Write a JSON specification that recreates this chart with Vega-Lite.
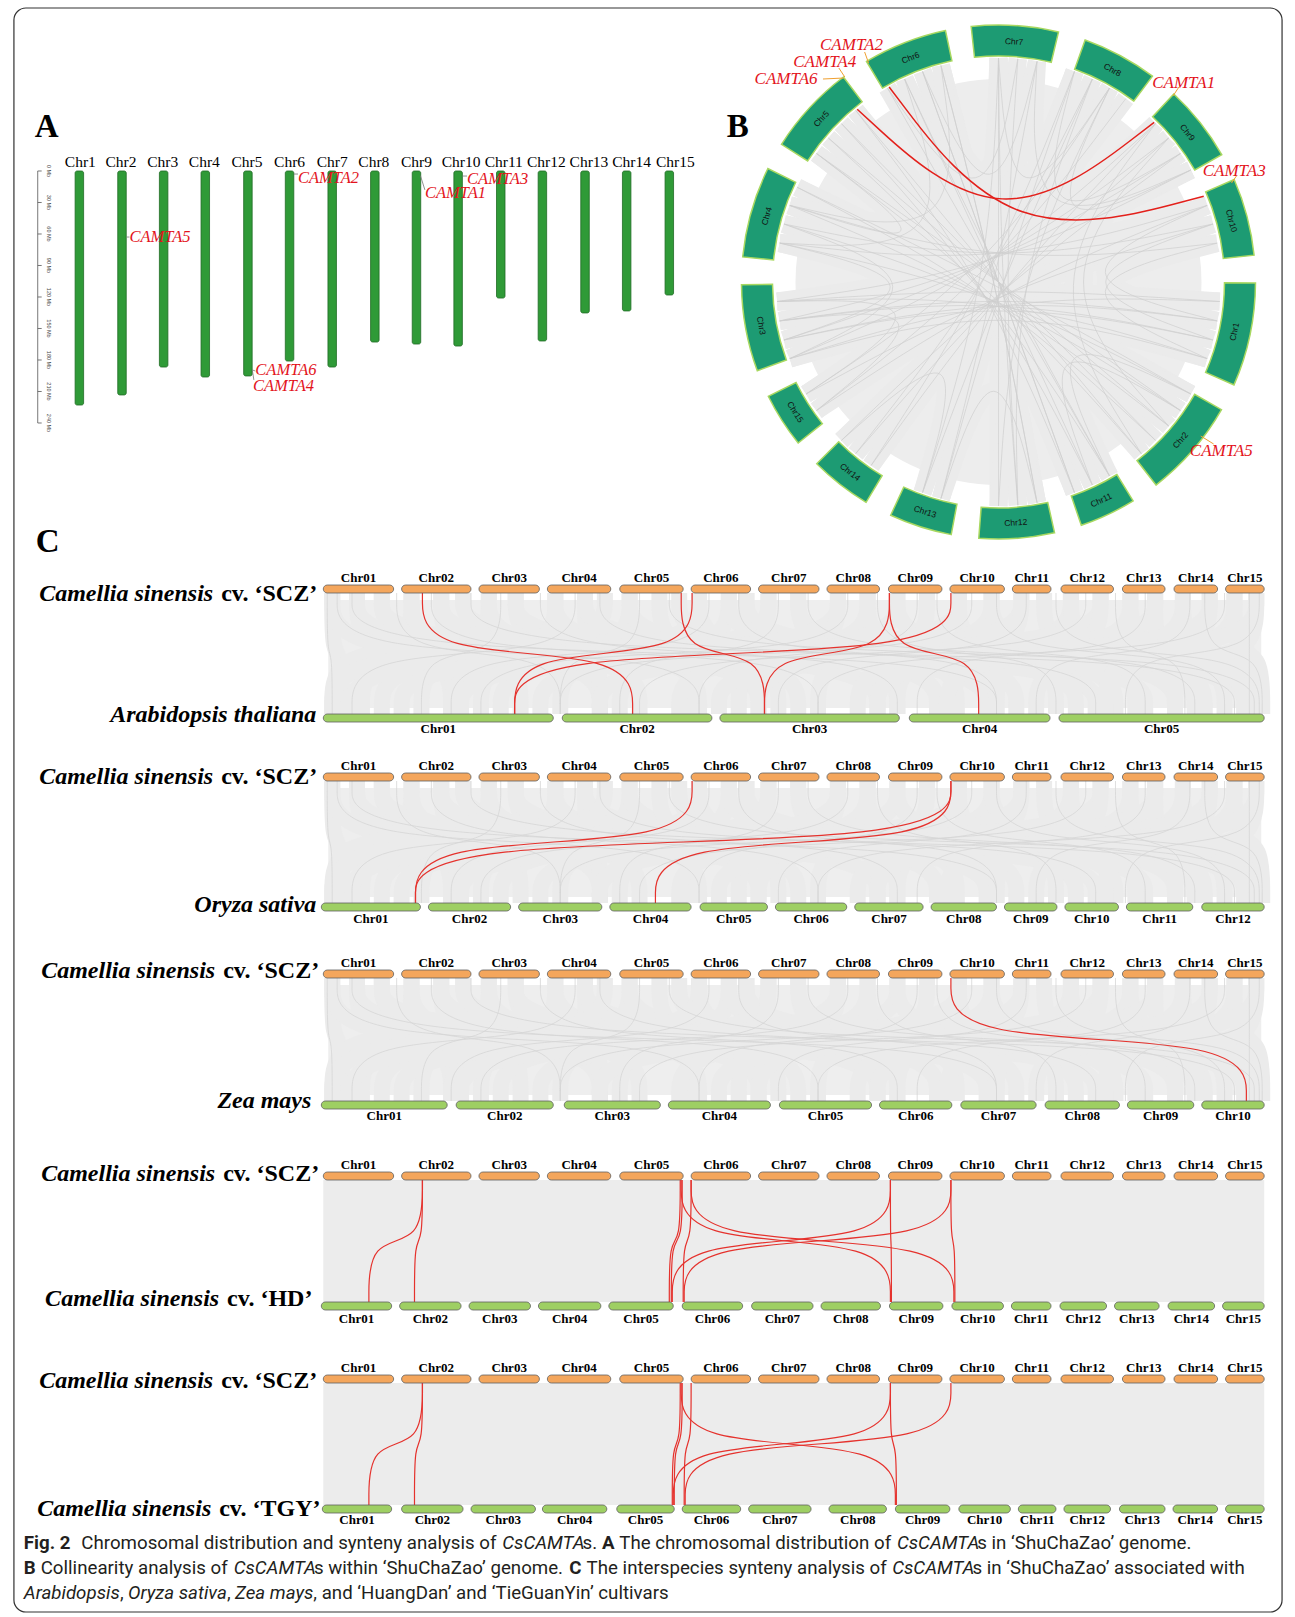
{
"$schema":"https://vega.github.io/schema/vega-lite/v6.json",
"width":1295,"height":1617,
"autosize":{"type":"fit","contains":"padding"},
"padding":0,
"background":"#ffffff",
"config":{"view":{"stroke":null}},
"datasets":{
"circG":[
{"xs":[1002,1002,1002],"ys":[58,282,506]},
{"xs":[1021.5,1002,1021.5],"ys":[58.9,282,505.1]},
{"xs":[1040.9,1002,944],"ys":[61.4,282,498.4]},
{"xs":[1002,1002,925.4],"ys":[58,282,492.5]},
{"xs":[944,1002,1040.9],"ys":[65.6,282,502.6]},
{"xs":[925.4,1002,1078.6],"ys":[71.5,282,492.5]},
{"xs":[907.3,1002,1114],"ys":[79,282,476]},
{"xs":[1078.6,1002,873.5],"ys":[71.5,282,465.5]},
{"xs":[1096.7,1002,858],"ys":[79,282,453.6]},
{"xs":[1114,1002,808],"ys":[88,282,394]},
{"xs":[1130.5,1002,818.5],"ys":[98.5,282,410.5]},
{"xs":[1160.4,1002,791.5],"ys":[123.6,282,358.6]},
{"xs":[1173.6,1002,785.6],"ys":[138,282,340]},
{"xs":[1185.5,1002,781.4],"ys":[153.5,282,320.9]},
{"xs":[1196,1002,778.9],"ys":[170,282,301.5]},
{"xs":[1212.5,1002,781.4],"ys":[205.4,282,243.1]},
{"xs":[1218.4,1002,785.6],"ys":[224,282,224]},
{"xs":[1222.6,1002,791.5],"ys":[243.1,282,205.4]},
{"xs":[1225.1,1002,778.9],"ys":[301.5,282,301.5]},
{"xs":[1222.6,1002,781.4],"ys":[320.9,282,320.9]},
{"xs":[1218.4,1002,785.6],"ys":[340,282,340]},
{"xs":[1212.5,1002,791.5],"ys":[358.6,282,358.6]},
{"xs":[1196,1002,799],"ys":[394,282,187.3]},
{"xs":[1185.5,1002,818.5],"ys":[410.5,282,153.5]},
{"xs":[1173.6,1002,830.4],"ys":[426,282,138]},
{"xs":[1160.4,1002,843.6],"ys":[440.4,282,123.6]},
{"xs":[1146,1002,858],"ys":[453.6,282,110.4]},
{"xs":[1114,1002,890],"ys":[476,282,88]},
{"xs":[1096.7,1002,907.3],"ys":[485,282,79]},
{"xs":[1078.6,1002,925.4],"ys":[492.5,282,71.5]},
{"xs":[1040.9,1002,944],"ys":[502.6,282,65.6]},
{"xs":[1021.5,1002,1002],"ys":[505.1,282,58]},
{"xs":[944,1002,1078.6],"ys":[498.4,282,71.5]},
{"xs":[925.4,1002,1096.7],"ys":[492.5,282,79]},
{"xs":[873.5,1002,1160.4],"ys":[465.5,282,123.6]},
{"xs":[858,1002,1173.6],"ys":[453.6,282,138]},
{"xs":[843.6,1002,1185.5],"ys":[440.4,282,153.5]},
{"xs":[818.5,1002,1212.5],"ys":[410.5,282,205.4]},
{"xs":[808,1002,1218.4],"ys":[394,282,224]},
{"xs":[791.5,1002,1225.1],"ys":[358.6,282,301.5]},
{"xs":[785.6,1002,1222.6],"ys":[340,282,320.9]},
{"xs":[781.4,1002,1218.4],"ys":[320.9,282,340]},
{"xs":[778.9,1002,1212.5],"ys":[301.5,282,358.6]},
{"xs":[781.4,1002,1196],"ys":[243.1,282,394]},
{"xs":[785.6,1002,1185.5],"ys":[224,282,410.5]},
{"xs":[791.5,1002,1173.6],"ys":[205.4,282,426]},
{"xs":[799,1002,1160.4],"ys":[187.3,282,440.4]},
{"xs":[818.5,1002,1146],"ys":[153.5,282,453.6]},
{"xs":[830.4,1002,1114],"ys":[138,282,476]},
{"xs":[843.6,1002,1096.7],"ys":[123.6,282,485]},
{"xs":[858,1002,1078.6],"ys":[110.4,282,492.5]},
{"xs":[890,1002,1021.5],"ys":[88,282,58.9]},
{"xs":[925.4,1002,1040.9],"ys":[71.5,282,61.4]},
{"xs":[1002,1002,1114],"ys":[58,282,88]},
{"xs":[1212.5,1002,1222.6],"ys":[205.4,282,320.9]},
{"xs":[1218.4,1002,1218.4],"ys":[224,282,340]},
{"xs":[1196,1002,1114],"ys":[394,282,476]},
{"xs":[1185.5,1002,1096.7],"ys":[410.5,282,485]},
{"xs":[781.4,1002,818.5],"ys":[320.9,282,410.5]},
{"xs":[778.9,1002,808],"ys":[301.5,282,394]},
{"xs":[781.4,1002,785.6],"ys":[243.1,282,340]},
{"xs":[785.6,1002,791.5],"ys":[224,282,358.6]},
{"xs":[791.5,1002,818.5],"ys":[205.4,282,153.5]},
{"xs":[925.4,1002,843.6],"ys":[492.5,282,440.4]},
{"xs":[1040.9,1002,944],"ys":[502.6,282,498.4]},
{"xs":[1196,1002,1114],"ys":[170,282,88]},
{"xs":[1185.5,1002,1078.6],"ys":[153.5,282,71.5]},
{"xs":[1222.6,1002,1212.5],"ys":[243.1,282,358.6]},
{"xs":[1040.9,1002,1196],"ys":[61.4,282,170]},
{"xs":[944,1002,791.5],"ys":[65.6,282,205.4]},
{"xs":[907.3,1002,781.4],"ys":[79,282,243.1]},
{"xs":[1160.4,1002,1146],"ys":[123.6,282,453.6]},
{"xs":[1173.6,1002,1173.6],"ys":[138,282,426]},
{"xs":[1096.7,1002,1021.5],"ys":[79,282,505.1]},
{"xs":[1114,1002,1002],"ys":[88,282,506]}
],
"circ":[
{"c":"Chr7","a0":-6.1,"a1":13.5,"m":3.7},
{"c":"Chr8","a0":19.7,"a1":36.8,"m":28.25},
{"c":"Chr9","a0":43.0,"a1":60.3,"m":51.65},
{"c":"Chr10","a0":66.5,"a1":84.0,"m":75.25},
{"c":"Chr1","a0":90.2,"a1":113.6,"m":101.9},
{"c":"Chr2","a0":119.8,"a1":142.2,"m":131},
{"c":"Chr11","a0":148.4,"a1":161.2,"m":154.8},
{"c":"Chr12","a0":167.4,"a1":184.4,"m":175.9},
{"c":"Chr13","a0":190.6,"a1":204.8,"m":197.7},
{"c":"Chr14","a0":211.0,"a1":225.0,"m":218},
{"c":"Chr15","a0":231.2,"a1":243.6,"m":237.4},
{"c":"Chr3","a0":249.8,"a1":269.4,"m":259.6},
{"c":"Chr4","a0":275.6,"a1":296.2,"m":285.9},
{"c":"Chr5","a0":302.4,"a1":322.9,"m":312.65},
{"c":"Chr6","a0":329.1,"a1":348.1,"m":338.6}
],
"cPan":[
{"p":1,"ys":[593,653.5,653.5,714],"t0":585,"t1":593,"tl":582,"b0":714,"b1":722,"bl":733},
{"p":2,"ys":[781,842,842,903],"t0":773,"t1":781,"tl":770,"b0":903,"b1":911,"bl":923},
{"p":3,"ys":[978,1039.5,1039.5,1101],"t0":970,"t1":978,"tl":967,"b0":1101,"b1":1109,"bl":1120},
{"p":4,"ys":[1180,1241,1241,1302],"t0":1172,"t1":1180,"tl":1169,"b0":1302,"b1":1310,"bl":1323},
{"p":5,"ys":[1383,1444,1444,1505],"t0":1375,"t1":1383,"tl":1372,"b0":1505,"b1":1513,"bl":1524}
],
"cGray":[
{"ps":[1,2,3],"xs":[330,330,340,340]},{"ps":[1,2,3],"xs":[330,330,600,600]},{"ps":[1,2,3],"xs":[355,355,450,450]},{"ps":[1,2,3],"xs":[355,355,880,880]},
{"ps":[1,2,3],"xs":[380,380,760,760]},{"ps":[1,2,3],"xs":[380,380,1100,1100]},{"ps":[1,2,3],"xs":[410,410,330,330]},{"ps":[1,2,3],"xs":[410,410,640,640]},
{"ps":[1,2,3],"xs":[440,440,520,520]},{"ps":[1,2,3],"xs":[440,440,990,990]},{"ps":[1,2,3],"xs":[462,462,1200,1200]},{"ps":[1,2,3],"xs":[488,488,360,360]},
{"ps":[1,2,3],"xs":[488,488,800,800]},{"ps":[1,2,3],"xs":[515,515,700,700]},{"ps":[1,2,3],"xs":[515,515,1150,1150]},{"ps":[1,2,3],"xs":[555,555,420,420]},
{"ps":[1,2,3],"xs":[555,555,940,940]},{"ps":[1,2,3],"xs":[585,585,600,600]},{"ps":[1,2,3],"xs":[585,585,1250,1250]},{"ps":[1,2,3],"xs":[605,605,330,330]},
{"ps":[1,2,3],"xs":[630,630,480,480]},{"ps":[1,2,3],"xs":[630,630,1080,1080]},{"ps":[1,2,3],"xs":[660,660,780,780]},{"ps":[1,2,3],"xs":[680,680,1020,1020]},
{"ps":[1,2,3],"xs":[700,700,380,380]},{"ps":[1,2,3],"xs":[700,700,900,900]},{"ps":[1,2,3],"xs":[730,730,560,560]},{"ps":[1,2,3],"xs":[730,730,1180,1180]},
{"ps":[1,2,3],"xs":[748,748,1260,1260]},{"ps":[1,2,3],"xs":[770,770,450,450]},{"ps":[1,2,3],"xs":[770,770,690,690]},{"ps":[1,2,3],"xs":[800,800,960,960]},
{"ps":[1,2,3],"xs":[800,800,1120,1120]},{"ps":[1,2,3],"xs":[840,840,350,350]},{"ps":[1,2,3],"xs":[840,840,740,740]},{"ps":[1,2,3],"xs":[870,870,1000,1000]},
{"ps":[1,2,3],"xs":[870,870,620,620]},{"ps":[1,2,3],"xs":[900,900,500,500]},{"ps":[1,2,3],"xs":[900,900,1210,1210]},{"ps":[1,2,3],"xs":[930,930,820,820]},
{"ps":[1,2,3],"xs":[962,962,400,400]},{"ps":[1,2,3],"xs":[962,962,1060,1060]},{"ps":[1,2,3],"xs":[995,995,680,680]},{"ps":[1,2,3],"xs":[995,995,1250,1250]},
{"ps":[1,2,3],"xs":[1025,1025,540,540]},{"ps":[1,2,3],"xs":[1025,1025,900,900]},{"ps":[1,2,3],"xs":[1048,1048,1140,1140]},{"ps":[1,2,3],"xs":[1075,1075,760,760]},
{"ps":[1,2,3],"xs":[1075,1075,1230,1230]},{"ps":[1,2,3],"xs":[1105,1105,460,460]},{"ps":[1,2,3],"xs":[1105,1105,1000,1000]},{"ps":[1,2,3],"xs":[1135,1135,860,860]},
{"ps":[1,2,3],"xs":[1135,1135,1265,1265]},{"ps":[1,2,3],"xs":[1160,1160,600,600]},{"ps":[1,2,3],"xs":[1160,1160,1180,1180]},{"ps":[1,2,3],"xs":[1188,1188,950,950]},
{"ps":[1,2,3],"xs":[1188,1188,1262,1262]},{"ps":[1,2,3],"xs":[1215,1215,720,720]},{"ps":[1,2,3],"xs":[1215,1215,1110,1110]},{"ps":[1,2,3],"xs":[1240,1240,1040,1040]},
{"ps":[1,2,3],"xs":[1240,1240,1268,1268]},{"ps":[1,2,3],"xs":[1262,1262,880,880]},{"ps":[1,2,3],"xs":[1262,1262,1200,1200]}
],
"cThin":[
{"ps":[1,2,3],"xs":[325,325,330,330]},{"ps":[1,2,3],"xs":[335,335,700,700]},{"ps":[1,2,3],"xs":[350,350,1000,1000]},{"ps":[1,2,3],"xs":[395,395,560,560]},
{"ps":[1,2,3],"xs":[430,430,820,820]},{"ps":[1,2,3],"xs":[470,470,1240,1240]},{"ps":[1,2,3],"xs":[500,500,420,420]},{"ps":[1,2,3],"xs":[540,540,900,900]},
{"ps":[1,2,3],"xs":[575,575,350,350]},{"ps":[1,2,3],"xs":[600,600,1100,1100]},{"ps":[1,2,3],"xs":[640,640,560,560]},{"ps":[1,2,3],"xs":[670,670,1260,1260]},
{"ps":[1,2,3],"xs":[710,710,450,450]},{"ps":[1,2,3],"xs":[740,740,1000,1000]},{"ps":[1,2,3],"xs":[780,780,620,620]},{"ps":[1,2,3],"xs":[810,810,1200,1200]},
{"ps":[1,2,3],"xs":[850,850,480,480]},{"ps":[1,2,3],"xs":[880,880,1060,1060]},{"ps":[1,2,3],"xs":[920,920,700,700]},{"ps":[1,2,3],"xs":[940,940,1150,1150]},
{"ps":[1,2,3],"xs":[975,975,560,560]},{"ps":[1,2,3],"xs":[1000,1000,1230,1230]},{"ps":[1,2,3],"xs":[1030,1030,780,780]},{"ps":[1,2,3],"xs":[1060,1060,1265,1265]},
{"ps":[1,2,3],"xs":[1090,1090,640,640]},{"ps":[1,2,3],"xs":[1120,1120,1190,1190]},{"ps":[1,2,3],"xs":[1150,1150,920,920]},{"ps":[1,2,3],"xs":[1195,1195,1040,1040]},
{"ps":[1,2,3],"xs":[1230,1230,820,820]},{"ps":[1,2,3],"xs":[1255,1255,1255,1255]},{"ps":[1,2,3],"xs":[1265,1265,1130,1130]},{"ps":[1,2,3],"xs":[1210,1210,1268,1268]}
],
"cRed":[
{"p":1,"xs":[421,421,633,633]},{"p":1,"xs":[693,693,514,514]},{"p":1,"xs":[954,954,514,514]},{"p":1,"xs":[682,682,766,766]},{"p":1,"xs":[892,892,766,766]},{"p":1,"xs":[892,892,982,982]},
{"p":2,"xs":[693,693,414,414]},{"p":2,"xs":[954,954,414,414]},{"p":2,"xs":[954,954,656,656]},
{"p":3,"xs":[954,954,1252,1252]},
{"p":4,"xs":[421,421,367,367]},{"p":4,"xs":[421,421,413,413]},{"p":4,"xs":[681,681,670,670]},{"p":4,"xs":[683,683,672,672]},{"p":4,"xs":[692,692,684,684]},{"p":4,"xs":[682,682,893,893]},{"p":4,"xs":[692,692,957,957]},{"p":4,"xs":[893,893,673,673]},{"p":4,"xs":[954,954,685,685]},{"p":4,"xs":[893,893,894,894]},{"p":4,"xs":[954,954,958,958]},
{"p":5,"xs":[421,421,367,367]},{"p":5,"xs":[421,421,413,413]},{"p":5,"xs":[681,681,673,673]},{"p":5,"xs":[683,683,675,675]},{"p":5,"xs":[692,692,685,685]},{"p":5,"xs":[682,682,898,898]},{"p":5,"xs":[893,893,674,674]},{"p":5,"xs":[954,954,686,686]},{"p":5,"xs":[893,893,899,899]}
],
"scz":[
{"chr":"Chr01","s":321,"e":392,"ps":[1,2,3,4,5]},{"chr":"Chr02","s":400,"e":470,"ps":[1,2,3,4,5]},{"chr":"Chr03","s":478,"e":539,"ps":[1,2,3,4,5]},
{"chr":"Chr04","s":547,"e":611,"ps":[1,2,3,4,5]},{"chr":"Chr05","s":620,"e":684,"ps":[1,2,3,4,5]},{"chr":"Chr06","s":692,"e":752,"ps":[1,2,3,4,5]},
{"chr":"Chr07","s":760,"e":821,"ps":[1,2,3,4,5]},{"chr":"Chr08","s":829,"e":882,"ps":[1,2,3,4,5]},{"chr":"Chr09","s":891,"e":945,"ps":[1,2,3,4,5]},
{"chr":"Chr10","s":953,"e":1008,"ps":[1,2,3,4,5]},{"chr":"Chr11","s":1016,"e":1055,"ps":[1,2,3,4,5]},{"chr":"Chr12","s":1065,"e":1118,"ps":[1,2,3,4,5]},
{"chr":"Chr13","s":1127,"e":1170,"ps":[1,2,3,4,5]},{"chr":"Chr14","s":1179,"e":1223,"ps":[1,2,3,4,5]},{"chr":"Chr15","s":1231,"e":1270,"ps":[1,2,3,4,5]}
],
"cBot":[
{"p":1,"chr":"Chr01","s":321,"e":553},{"p":1,"chr":"Chr02","s":562,"e":713},{"p":1,"chr":"Chr03","s":721,"e":902},{"p":1,"chr":"Chr04","s":912,"e":1054},{"p":1,"chr":"Chr05","s":1063,"e":1270},
{"p":2,"chr":"Chr01","s":319,"e":419},{"p":2,"chr":"Chr02","s":427,"e":510},{"p":2,"chr":"Chr03","s":518,"e":602},{"p":2,"chr":"Chr04","s":610,"e":692},{"p":2,"chr":"Chr05","s":701,"e":769},{"p":2,"chr":"Chr06","s":777,"e":849},{"p":2,"chr":"Chr07","s":857,"e":926},{"p":2,"chr":"Chr08","s":934,"e":1000},{"p":2,"chr":"Chr09","s":1008,"e":1061},{"p":2,"chr":"Chr10","s":1069,"e":1123},{"p":2,"chr":"Chr11","s":1131,"e":1198},{"p":2,"chr":"Chr12","s":1207,"e":1270},
{"p":3,"chr":"Chr01","s":319,"e":446},{"p":3,"chr":"Chr02","s":455,"e":553},{"p":3,"chr":"Chr03","s":564,"e":661},{"p":3,"chr":"Chr04","s":669,"e":772},{"p":3,"chr":"Chr05","s":781,"e":874},{"p":3,"chr":"Chr06","s":882,"e":955},{"p":3,"chr":"Chr07","s":964,"e":1040},{"p":3,"chr":"Chr08","s":1049,"e":1124},{"p":3,"chr":"Chr09","s":1132,"e":1199},{"p":3,"chr":"Chr10","s":1207,"e":1270},
{"p":4,"chr":"Chr01","s":319,"e":390},{"p":4,"chr":"Chr02","s":398,"e":460},{"p":4,"chr":"Chr03","s":468,"e":530},{"p":4,"chr":"Chr04","s":538,"e":601},{"p":4,"chr":"Chr05","s":609,"e":674},{"p":4,"chr":"Chr06","s":683,"e":744},{"p":4,"chr":"Chr07","s":753,"e":815},{"p":4,"chr":"Chr08","s":823,"e":883},{"p":4,"chr":"Chr09","s":892,"e":946},{"p":4,"chr":"Chr10","s":955,"e":1007},{"p":4,"chr":"Chr11","s":1015,"e":1055},{"p":4,"chr":"Chr12","s":1064,"e":1111},{"p":4,"chr":"Chr13","s":1119,"e":1164},{"p":4,"chr":"Chr14","s":1173,"e":1220},{"p":4,"chr":"Chr15","s":1228,"e":1270},
{"p":5,"chr":"Chr01","s":320,"e":390},{"p":5,"chr":"Chr02","s":400,"e":462},{"p":5,"chr":"Chr03","s":470,"e":535},{"p":5,"chr":"Chr04","s":542,"e":607},{"p":5,"chr":"Chr05","s":617,"e":675},{"p":5,"chr":"Chr06","s":683,"e":742},{"p":5,"chr":"Chr07","s":750,"e":813},{"p":5,"chr":"Chr08","s":831,"e":889},{"p":5,"chr":"Chr09","s":898,"e":953},{"p":5,"chr":"Chr10","s":962,"e":1014},{"p":5,"chr":"Chr11","s":1022,"e":1060},{"p":5,"chr":"Chr12","s":1068,"e":1115},{"p":5,"chr":"Chr13","s":1124,"e":1170},{"p":5,"chr":"Chr14","s":1178,"e":1223},{"p":5,"chr":"Chr15","s":1231,"e":1270}
],
"spIt":[
{"t":"Camellia sinensis","x":210,"y":601},{"t":"Arabidopsis thaliana","x":314,"y":722},
{"t":"Camellia sinensis","x":210,"y":784},{"t":"Oryza sativa","x":314,"y":912},
{"t":"Camellia sinensis","x":212,"y":978},{"t":"Zea mays","x":309,"y":1108},
{"t":"Camellia sinensis","x":212,"y":1181},{"t":"Camellia sinensis","x":216,"y":1306},
{"t":"Camellia sinensis","x":210,"y":1388},{"t":"Camellia sinensis","x":208,"y":1516}
],
"spUp":[
{"t":"cv. ‘SCZ’","x":218,"y":601},{"t":"cv. ‘SCZ’","x":218,"y":784},{"t":"cv. ‘SCZ’","x":220,"y":978},
{"t":"cv. ‘SCZ’","x":220,"y":1181},{"t":"cv. ‘HD’","x":224,"y":1306},{"t":"cv. ‘SCZ’","x":218,"y":1388},{"t":"cv. ‘TGY’","x":216,"y":1516}
],
"capB":[
{"t":"Fig. 2","x":19,"y":1549},{"t":"A","x":602,"y":1549},{"t":"B","x":19,"y":1574},{"t":"C","x":569,"y":1574}
],
"capR":[
{"t":"Chromosomal distribution and synteny analysis of","x":77,"y":1549},
{"t":"s.","x":582.5,"y":1549},
{"t":"The chromosomal distribution of","x":619.5,"y":1549},
{"t":"s in ‘ShuChaZao’ genome.","x":980.6,"y":1549},
{"t":"Collinearity analysis of","x":36,"y":1574},
{"t":"s within ‘ShuChaZao’ genome.","x":311.6,"y":1574},
{"t":"The interspecies synteny analysis of","x":586.6,"y":1574},
{"t":"s in ‘ShuChaZao’ associated with","x":975.8,"y":1574},
{"t":",","x":116,"y":1599},
{"t":",","x":224,"y":1599},
{"t":", and ‘HuangDan’ and ‘TieGuanYin’ cultivars","x":311,"y":1599}
],
"capI":[
{"t":"CsCAMTA","x":501.5,"y":1549},{"t":"CsCAMTA","x":899.6,"y":1549},
{"t":"CsCAMTA","x":230.6,"y":1574},{"t":"CsCAMTA","x":894.8,"y":1574},
{"t":"Arabidopsis","x":19,"y":1599},{"t":"Oryza sativa","x":124,"y":1599},{"t":"Zea mays","x":232,"y":1599}
],
"aChr":[
{"c":"Chr1","x":75,"len":222.9},{"c":"Chr2","x":118,"len":213.3},{"c":"Chr3","x":160,"len":186.7},{"c":"Chr4","x":202,"len":196.2},
{"c":"Chr5","x":245,"len":195.2},{"c":"Chr6","x":287,"len":181.0},{"c":"Chr7","x":330,"len":186.7},{"c":"Chr8","x":373,"len":162.9},
{"c":"Chr9","x":415,"len":164.8},{"c":"Chr10","x":457,"len":166.7},{"c":"Chr11","x":500,"len":121.0},{"c":"Chr12","x":542,"len":161.9},
{"c":"Chr13","x":585,"len":135.2},{"c":"Chr14","x":627,"len":133.3},{"c":"Chr15","x":670,"len":118.1}
],
"aLab":[
{"t":"Chr1","x":76},{"t":"Chr2","x":117},{"t":"Chr3","x":159},{"t":"Chr4","x":201},{"t":"Chr5","x":244},{"t":"Chr6","x":287},{"t":"Chr7","x":330},{"t":"Chr8","x":372},
{"t":"Chr9","x":415},{"t":"Chr10","x":460},{"t":"Chr11","x":503},{"t":"Chr12","x":546},{"t":"Chr13","x":589},{"t":"Chr14","x":632},{"t":"Chr15","x":676}
],
"aTick":[
{"mb":0,"t":"0 Mb"},{"mb":30,"t":"30 Mb"},{"mb":60,"t":"60 Mb"},{"mb":90,"t":"90 Mb"},{"mb":120,"t":"120 Mb"},{"mb":150,"t":"150 Mb"},{"mb":180,"t":"180 Mb"},{"mb":210,"t":"210 Mb"},{"mb":240,"t":"240 Mb"}
],
"aGene":[
{"g":"CAMTA5","x1":122.5,"m1":62.9,"x2":125.5,"m2":62.9,"lx":125.5,"lm":67.6},
{"g":"CAMTA2","x1":291.5,"m1":2.9,"x2":295.5,"m2":2.9,"lx":295.5,"lm":11.5},
{"g":"CAMTA6","x1":249.5,"m1":189.5,"x2":252.5,"m2":190.5,"lx":252.5,"lm":194.3},
{"g":"CAMTA4","x1":249.5,"m1":190,"x2":251,"m2":199,"lx":250,"lm":209.5},
{"g":"CAMTA3","x1":461.5,"m1":4.8,"x2":466,"m2":4.8,"lx":466,"lm":12.4},
{"g":"CAMTA1","x1":419,"m1":4.5,"x2":423.5,"m2":18,"lx":423.5,"lm":25.7}
]
},
"resolve":{"scale":{"y":"independent"}},
"layer":[
{"layer":[
{"data":{"values":[{}]},"mark":{"type":"rect","fill":"#ffffff","fillOpacity":0,"stroke":"#333333","strokeWidth":1.2,"cornerRadius":12},
 "encoding":{"x":{"datum":9,"type":"quantitative","scale":{"domain":[0,1295],"nice":false,"zero":false},"axis":null},"x2":{"datum":1288},
 "y":{"datum":8,"type":"quantitative","scale":{"domain":[0,1617],"nice":false,"zero":false,"reverse":true},"axis":null},"y2":{"datum":1612}}},
{"data":{"values":[{"t":"A","x":30,"y":137},{"t":"B","x":728,"y":137},{"t":"C","x":31,"y":552}]},
 "mark":{"type":"text","font":"Liberation Serif","fontSize":33,"fontWeight":"bold","align":"left","baseline":"alphabetic","fill":"#000000"},
 "encoding":{"x":{"field":"x","type":"quantitative","scale":{"domain":[0,1295],"nice":false,"zero":false},"axis":null},
 "y":{"field":"y","type":"quantitative","scale":{"domain":[0,1617],"nice":false,"zero":false,"reverse":true},"axis":null},"text":{"field":"t"}}},
{"data":{"name":"aLab"},
 "mark":{"type":"text","font":"Liberation Serif","fontSize":15.5,"align":"center","baseline":"alphabetic","fill":"#000000"},
 "encoding":{"x":{"field":"x","type":"quantitative","scale":{"domain":[0,1295],"nice":false,"zero":false},"axis":null},
 "y":{"datum":167,"type":"quantitative","scale":{"domain":[0,1617],"nice":false,"zero":false,"reverse":true},"axis":null},"text":{"field":"t"}}},
{"data":{"values":[{}]},
 "mark":{"type":"arc","outerRadius":203,"innerRadius":0,"fill":"#ededed"},
 "encoding":{"x":{"datum":1002,"type":"quantitative","scale":{"domain":[0,1295],"nice":false,"zero":false},"axis":null},
 "y":{"datum":282,"type":"quantitative","scale":{"domain":[0,1617],"nice":false,"zero":false,"reverse":true},"axis":null},
 "theta":{"datum":0,"type":"quantitative","stack":null,"scale":{"domain":[0,360],"range":[0,6.283185],"zero":false,"nice":false}},
 "theta2":{"datum":360}}},
{"data":{"name":"circG"},"transform":[{"window":[{"op":"row_number","as":"id"}]},{"flatten":["xs","ys"]}],
 "mark":{"type":"line","interpolate":"bundle","tension":0.75,"stroke":"#ebebeb","strokeWidth":18},
 "encoding":{"x":{"field":"xs","type":"quantitative","scale":{"domain":[0,1295],"nice":false,"zero":false},"axis":null},
 "y":{"field":"ys","type":"quantitative","scale":{"domain":[0,1617],"nice":false,"zero":false,"reverse":true},"axis":null},
 "detail":{"field":"id","type":"nominal"},"order":{"value":null}}},
{"data":{"name":"circG"},"transform":[{"window":[{"op":"row_number","as":"id"}]},{"flatten":["xs","ys"]}],
 "mark":{"type":"line","interpolate":"bundle","tension":0.75,"stroke":"#cfcfcf","strokeWidth":0.7},
 "encoding":{"x":{"field":"xs","type":"quantitative","scale":{"domain":[0,1295],"nice":false,"zero":false},"axis":null},
 "y":{"field":"ys","type":"quantitative","scale":{"domain":[0,1617],"nice":false,"zero":false,"reverse":true},"axis":null},
 "detail":{"field":"id","type":"nominal"},"order":{"value":null}}},
{"data":{"name":"circ"},
 "mark":{"type":"arc","outerRadius":257,"innerRadius":226,"fill":"#1d9b73","stroke":"#a8d860","strokeWidth":1.5},
 "encoding":{"x":{"datum":1002,"type":"quantitative","scale":{"domain":[0,1295],"nice":false,"zero":false},"axis":null},
 "y":{"datum":282,"type":"quantitative","scale":{"domain":[0,1617],"nice":false,"zero":false,"reverse":true},"axis":null},
 "theta":{"field":"a0","type":"quantitative","stack":null,"scale":{"domain":[0,360],"range":[0,6.283185],"zero":false,"nice":false}},
 "theta2":{"field":"a1"}}},
{"data":{"name":"circ"},"transform":[{"filter":"datum.m < 90 || datum.m > 270"}],
 "mark":{"type":"text","radius":241,"font":"Liberation Sans","fontSize":8.5,"fill":"#111111","align":"center","baseline":"middle"},
 "encoding":{"x":{"datum":1002,"type":"quantitative","scale":{"domain":[0,1295],"nice":false,"zero":false},"axis":null},
 "y":{"datum":282,"type":"quantitative","scale":{"domain":[0,1617],"nice":false,"zero":false,"reverse":true},"axis":null},
 "theta":{"field":"m","type":"quantitative","stack":null,"scale":{"domain":[0,360],"range":[0,6.283185],"zero":false,"nice":false}},
 "angle":{"field":"m","type":"quantitative","scale":null},"text":{"field":"c"}}},
{"data":{"name":"circ"},"transform":[{"filter":"datum.m >= 90 && datum.m <= 270"}],
 "mark":{"type":"text","radius":241,"font":"Liberation Sans","fontSize":8.5,"fill":"#111111","align":"center","baseline":"middle"},
 "encoding":{"x":{"datum":1002,"type":"quantitative","scale":{"domain":[0,1295],"nice":false,"zero":false},"axis":null},
 "y":{"datum":282,"type":"quantitative","scale":{"domain":[0,1617],"nice":false,"zero":false,"reverse":true},"axis":null},
 "theta":{"field":"m","type":"quantitative","stack":null,"scale":{"domain":[0,360],"range":[0,6.283185],"zero":false,"nice":false}},
 "angle":{"field":"m","type":"quantitative","scale":{"domain":[0,360],"range":[-180,180]}},"text":{"field":"c"}}},
{"data":{"values":[{"xs":[859.5,1002,1159],"ys":[109.2,282,122.3]},{"xs":[891.7,1002,1209],"ys":[87,282,196.3]}]},
 "transform":[{"window":[{"op":"row_number","as":"id"}]},{"flatten":["xs","ys"]}],
 "mark":{"type":"line","interpolate":"bundle","tension":0.75,"stroke":"#e3201b","strokeWidth":1.5},
 "encoding":{"x":{"field":"xs","type":"quantitative","scale":{"domain":[0,1295],"nice":false,"zero":false},"axis":null},
 "y":{"field":"ys","type":"quantitative","scale":{"domain":[0,1617],"nice":false,"zero":false,"reverse":true},"axis":null},
 "detail":{"field":"id","type":"nominal"},"order":{"value":null}}},
{"data":{"values":[{"x1":867,"y1":52,"x2":871,"y2":63},{"x1":841,"y1":68,"x2":847,"y2":77},{"x1":825,"y1":79,"x2":846,"y2":78},{"x1":1184,"y1":87,"x2":1178,"y2":96},{"x1":1242,"y1":176,"x2":1237,"y2":183},{"x1":1206,"y1":436,"x2":1219,"y2":444}]},
 "mark":{"type":"rule","stroke":"#f0a030","strokeWidth":1},
 "encoding":{"x":{"field":"x1","type":"quantitative","scale":{"domain":[0,1295],"nice":false,"zero":false},"axis":null},
 "y":{"field":"y1","type":"quantitative","scale":{"domain":[0,1617],"nice":false,"zero":false,"reverse":true},"axis":null},
 "x2":{"field":"x2"},"y2":{"field":"y2"}}},
{"data":{"values":[{"t":"CAMTA2","x":822,"y":50},{"t":"CAMTA4","x":795,"y":67},{"t":"CAMTA6","x":756,"y":84},{"t":"CAMTA1","x":1157,"y":88},{"t":"CAMTA3","x":1208,"y":176},{"t":"CAMTA5","x":1195,"y":456}]},
 "mark":{"type":"text","font":"Liberation Serif","fontSize":17,"fontStyle":"italic","align":"left","baseline":"alphabetic","fill":"#e3141c"},
 "encoding":{"x":{"field":"x","type":"quantitative","scale":{"domain":[0,1295],"nice":false,"zero":false},"axis":null},
 "y":{"field":"y","type":"quantitative","scale":{"domain":[0,1617],"nice":false,"zero":false,"reverse":true},"axis":null},"text":{"field":"t"}}},
{"data":{"name":"cPan"},"transform":[{"filter":"datum.p >= 4"}],
 "mark":{"type":"rect","fill":"#ececec"},
 "encoding":{"x":{"datum":321,"type":"quantitative","scale":{"domain":[0,1295],"nice":false,"zero":false},"axis":null},"x2":{"datum":1270},
 "y":{"field":"t1","type":"quantitative","scale":{"domain":[0,1617],"nice":false,"zero":false,"reverse":true},"axis":null},"y2":{"field":"b0"}}},
{"data":{"name":"cPan"},"transform":[{"filter":"datum.p <= 3"}],
 "mark":{"type":"rect","fill":"#eeeeee","yOffset":7,"y2Offset":-6},
 "encoding":{"x":{"datum":326,"type":"quantitative","scale":{"domain":[0,1295],"nice":false,"zero":false},"axis":null},"x2":{"datum":1267},
 "y":{"field":"t1","type":"quantitative","scale":{"domain":[0,1617],"nice":false,"zero":false,"reverse":true},"axis":null},"y2":{"field":"b0"}}},
{"data":{"name":"cGray"},
 "transform":[{"flatten":["ps"],"as":["p"]},{"window":[{"op":"row_number","as":"id"}]},{"lookup":"p","from":{"data":{"name":"cPan"},"key":"p","fields":["ys"]}},{"flatten":["xs","ys"]}],
 "mark":{"type":"line","interpolate":"basis","stroke":"#ebebeb","strokeWidth":16},
 "encoding":{"x":{"field":"xs","type":"quantitative","scale":{"domain":[0,1295],"nice":false,"zero":false},"axis":null},
 "y":{"field":"ys","type":"quantitative","scale":{"domain":[0,1617],"nice":false,"zero":false,"reverse":true},"axis":null},
 "detail":{"field":"id","type":"nominal"},"order":{"value":null}}},
{"data":{"name":"cThin"},
 "transform":[{"flatten":["ps"],"as":["p"]},{"window":[{"op":"row_number","as":"id"}]},{"lookup":"p","from":{"data":{"name":"cPan"},"key":"p","fields":["ys"]}},{"flatten":["xs","ys"]}],
 "mark":{"type":"line","interpolate":"basis","stroke":"#d6d6d6","strokeWidth":0.8},
 "encoding":{"x":{"field":"xs","type":"quantitative","scale":{"domain":[0,1295],"nice":false,"zero":false},"axis":null},
 "y":{"field":"ys","type":"quantitative","scale":{"domain":[0,1617],"nice":false,"zero":false,"reverse":true},"axis":null},
 "detail":{"field":"id","type":"nominal"},"order":{"value":null}}},
{"data":{"name":"cRed"},
 "transform":[{"window":[{"op":"row_number","as":"id"}]},{"lookup":"p","from":{"data":{"name":"cPan"},"key":"p","fields":["ys"]}},{"flatten":["xs","ys"]}],
 "mark":{"type":"line","interpolate":"basis","stroke":"#e5322d","strokeWidth":1.2},
 "encoding":{"x":{"field":"xs","type":"quantitative","scale":{"domain":[0,1295],"nice":false,"zero":false},"axis":null},
 "y":{"field":"ys","type":"quantitative","scale":{"domain":[0,1617],"nice":false,"zero":false,"reverse":true},"axis":null},
 "detail":{"field":"id","type":"nominal"},"order":{"value":null}}},
{"data":{"name":"scz"},
 "transform":[{"flatten":["ps"],"as":["p"]},{"lookup":"p","from":{"data":{"name":"cPan"},"key":"p","fields":["t0","t1","tl"]}}],
 "mark":{"type":"rect","fill":"#f4a65c","stroke":"#5f5f5f","strokeWidth":0.8,"cornerRadius":4},
 "encoding":{"x":{"field":"s","type":"quantitative","scale":{"domain":[0,1295],"nice":false,"zero":false},"axis":null},"x2":{"field":"e"},
 "y":{"field":"t0","type":"quantitative","scale":{"domain":[0,1617],"nice":false,"zero":false,"reverse":true},"axis":null},"y2":{"field":"t1"}}},
{"data":{"name":"scz"},
 "transform":[{"flatten":["ps"],"as":["p"]},{"lookup":"p","from":{"data":{"name":"cPan"},"key":"p","fields":["t0","t1","tl"]}},{"calculate":"(datum.s+datum.e)/2","as":"mid"}],
 "mark":{"type":"text","font":"Liberation Serif","fontSize":13,"fontWeight":"bold","align":"center","baseline":"alphabetic","fill":"#000000"},
 "encoding":{"x":{"field":"mid","type":"quantitative","scale":{"domain":[0,1295],"nice":false,"zero":false},"axis":null},
 "y":{"field":"tl","type":"quantitative","scale":{"domain":[0,1617],"nice":false,"zero":false,"reverse":true},"axis":null},"text":{"field":"chr"}}},
{"data":{"name":"cBot"},
 "transform":[{"lookup":"p","from":{"data":{"name":"cPan"},"key":"p","fields":["b0","b1","bl"]}}],
 "mark":{"type":"rect","fill":"#9ecf63","stroke":"#5f5f5f","strokeWidth":0.8,"cornerRadius":4},
 "encoding":{"x":{"field":"s","type":"quantitative","scale":{"domain":[0,1295],"nice":false,"zero":false},"axis":null},"x2":{"field":"e"},
 "y":{"field":"b0","type":"quantitative","scale":{"domain":[0,1617],"nice":false,"zero":false,"reverse":true},"axis":null},"y2":{"field":"b1"}}},
{"data":{"name":"cBot"},
 "transform":[{"lookup":"p","from":{"data":{"name":"cPan"},"key":"p","fields":["b0","b1","bl"]}},{"calculate":"(datum.s+datum.e)/2","as":"mid"}],
 "mark":{"type":"text","font":"Liberation Serif","fontSize":13,"fontWeight":"bold","align":"center","baseline":"alphabetic","fill":"#000000"},
 "encoding":{"x":{"field":"mid","type":"quantitative","scale":{"domain":[0,1295],"nice":false,"zero":false},"axis":null},
 "y":{"field":"bl","type":"quantitative","scale":{"domain":[0,1617],"nice":false,"zero":false,"reverse":true},"axis":null},"text":{"field":"chr"}}},
{"data":{"name":"spIt"},
 "mark":{"type":"text","font":"Liberation Serif","fontSize":24,"fontWeight":"bold","fontStyle":"italic","align":"right","baseline":"alphabetic","fill":"#000000"},
 "encoding":{"x":{"field":"x","type":"quantitative","scale":{"domain":[0,1295],"nice":false,"zero":false},"axis":null},
 "y":{"field":"y","type":"quantitative","scale":{"domain":[0,1617],"nice":false,"zero":false,"reverse":true},"axis":null},"text":{"field":"t"}}},
{"data":{"name":"spUp"},
 "mark":{"type":"text","font":"Liberation Serif","fontSize":24,"fontWeight":"bold","align":"left","baseline":"alphabetic","fill":"#000000"},
 "encoding":{"x":{"field":"x","type":"quantitative","scale":{"domain":[0,1295],"nice":false,"zero":false},"axis":null},
 "y":{"field":"y","type":"quantitative","scale":{"domain":[0,1617],"nice":false,"zero":false,"reverse":true},"axis":null},"text":{"field":"t"}}},
{"data":{"name":"capB"},
 "mark":{"type":"text","font":"Roboto","fontSize":18.7,"fontWeight":"bold","align":"left","baseline":"alphabetic","fill":"#231f20"},
 "encoding":{"x":{"field":"x","type":"quantitative","scale":{"domain":[0,1295],"nice":false,"zero":false},"axis":null},
 "y":{"field":"y","type":"quantitative","scale":{"domain":[0,1617],"nice":false,"zero":false,"reverse":true},"axis":null},"text":{"field":"t"}}},
{"data":{"name":"capR"},
 "mark":{"type":"text","font":"Roboto","fontSize":18.7,"align":"left","baseline":"alphabetic","fill":"#231f20"},
 "encoding":{"x":{"field":"x","type":"quantitative","scale":{"domain":[0,1295],"nice":false,"zero":false},"axis":null},
 "y":{"field":"y","type":"quantitative","scale":{"domain":[0,1617],"nice":false,"zero":false,"reverse":true},"axis":null},"text":{"field":"t"}}},
{"data":{"name":"capI"},
 "mark":{"type":"text","font":"Roboto","fontSize":18.7,"fontStyle":"italic","align":"left","baseline":"alphabetic","fill":"#231f20"},
 "encoding":{"x":{"field":"x","type":"quantitative","scale":{"domain":[0,1295],"nice":false,"zero":false},"axis":null},
 "y":{"field":"y","type":"quantitative","scale":{"domain":[0,1617],"nice":false,"zero":false,"reverse":true},"axis":null},"text":{"field":"t"}}}
]},
{"layer":[
{"data":{"values":[{}]},"mark":{"type":"rule","stroke":"#555555","strokeWidth":0.8},
 "encoding":{"x":{"datum":33,"type":"quantitative","scale":{"domain":[0,1295],"nice":false,"zero":false},"axis":null},
 "y":{"datum":0,"type":"quantitative","scale":{"domain":[-162.857,1377.143],"nice":false,"zero":false,"reverse":true},"axis":null},"y2":{"datum":240}}},
{"data":{"name":"aTick"},"mark":{"type":"rule","stroke":"#555555","strokeWidth":0.8},
 "encoding":{"x":{"datum":33,"type":"quantitative","scale":{"domain":[0,1295],"nice":false,"zero":false},"axis":null},"x2":{"datum":37},
 "y":{"field":"mb","type":"quantitative","scale":{"domain":[-162.857,1377.143],"nice":false,"zero":false,"reverse":true},"axis":null}}},
{"data":{"name":"aTick"},"mark":{"type":"text","angle":90,"font":"Liberation Sans","fontSize":5.5,"fill":"#444444","align":"center","baseline":"middle"},
 "encoding":{"x":{"datum":44,"type":"quantitative","scale":{"domain":[0,1295],"nice":false,"zero":false},"axis":null},
 "y":{"field":"mb","type":"quantitative","scale":{"domain":[-162.857,1377.143],"nice":false,"zero":false,"reverse":true},"axis":null},"text":{"field":"t"}}},
{"data":{"name":"aChr"},"mark":{"type":"bar","orient":"vertical","width":8.5,"cornerRadius":2,"fill":"#2f9a37","stroke":"#1f6b24","strokeWidth":0.8},
 "encoding":{"x":{"field":"x","type":"quantitative","scale":{"domain":[0,1295],"nice":false,"zero":false},"axis":null},
 "y":{"field":"len","type":"quantitative","scale":{"domain":[-162.857,1377.143],"nice":false,"zero":false,"reverse":true},"axis":null},"y2":{"datum":0}}},
{"data":{"name":"aGene"},"mark":{"type":"rule","stroke":"#777777","strokeWidth":0.8},
 "encoding":{"x":{"field":"x1","type":"quantitative","scale":{"domain":[0,1295],"nice":false,"zero":false},"axis":null},"x2":{"field":"x2"},
 "y":{"field":"m1","type":"quantitative","scale":{"domain":[-162.857,1377.143],"nice":false,"zero":false,"reverse":true},"axis":null},"y2":{"field":"m2"}}},
{"data":{"name":"aGene"},"mark":{"type":"text","font":"Liberation Serif","fontSize":16.5,"fontStyle":"italic","align":"left","baseline":"alphabetic","fill":"#e3141c"},
 "encoding":{"x":{"field":"lx","type":"quantitative","scale":{"domain":[0,1295],"nice":false,"zero":false},"axis":null},
 "y":{"field":"lm","type":"quantitative","scale":{"domain":[-162.857,1377.143],"nice":false,"zero":false,"reverse":true},"axis":null},"text":{"field":"g"}}}
]}
]
}
